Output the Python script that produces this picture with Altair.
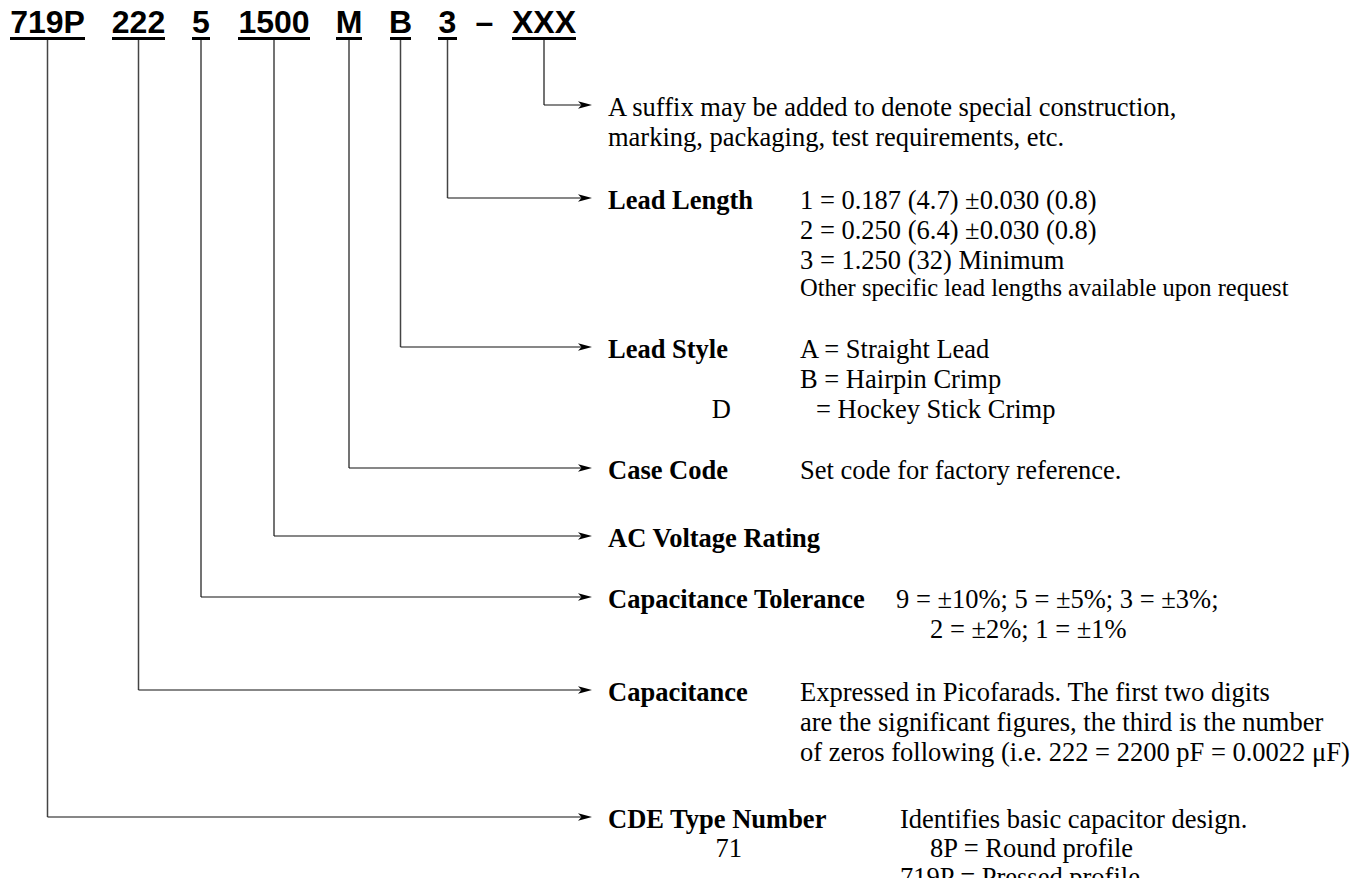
import altair as alt
import pandas as pd

# ---------------- content ----------------
codes = ["719P", "222", "5", "1500", "M", "B", "3", "\u2013", "XXX"]
code_underlined = [True, True, True, True, True, True, True, False, True]

row_code = ["XXX", "3", "B", "M", "1500", "5", "222", "719P"]
row_heading = ["", "Lead Length", "Lead Style", "Case Code", "AC Voltage Rating",
               "Capacitance Tolerance", "Capacitance", "CDE Type Number"]

desc_text = [
    "A suffix may be added to denote special construction,",
    "marking, packaging, test requirements, etc.",
    "1 = 0.187 (4.7) \u00b10.030 (0.8)",
    "2 = 0.250 (6.4) \u00b10.030 (0.8)",
    "3 = 1.250 (32) Minimum",
    "Other specific lead lengths available upon request",
    "A = Straight Lead",
    "B = Hairpin Crimp",
    "D",
    "= Hockey Stick Crimp",
    "Set code for factory reference.",
    "9 = \u00b110%; 5 = \u00b15%; 3 = \u00b13%;",
    "2 = \u00b12%; 1 = \u00b11%",
    "Expressed in Picofarads.  The first two digits",
    "are the significant figures, the third is the number",
    "of zeros following (i.e. 222 = 2200 pF = 0.0022 \u03bcF)",
    "Identifies basic capacitor design.",
    "71",
    "8P = Round profile",
    "719P = Pressed profile",
]

# ---------------- layout (page pixels) ----------------
code_cx = [47.5, 138.5, 201, 274, 349, 400.5, 447.5, 484.5, 544]
code_w = [75, 53, 18, 72, 26, 21, 19, 0, 64]
row_y = [105, 198, 347, 468, 536, 597, 690, 817]
heading_x = 608
tip_x = 592

desc_x = [608, 608, 800, 800, 800, 800, 800, 800, 731, 816, 800, 896, 930,
          800, 800, 800, 900, 742, 930, 900]
desc_y = [105, 135, 198, 228, 258, 286, 347, 377, 407, 407, 468, 597, 627,
          690, 720, 750, 817, 846, 846, 875]
desc_align = ["left"] * 8 + ["right", "left", "left", "left", "left",
                             "left", "left", "left", "left", "right", "left", "left"]
desc_size = [26.5] * 5 + [24.5] + [26.5] * 14

W, H = 1354, 870
xs = alt.Scale(domain=[8, 8 + W], nice=False, zero=False)
ys = alt.Scale(domain=[8, 8 + H], nice=False, zero=False, reverse=True)


def X(f):
    return alt.X(f, type="quantitative", scale=xs, axis=None)


def Y(f):
    return alt.Y(f, type="quantitative", scale=ys, axis=None)


# code labels
code_df = pd.DataFrame({"t": codes, "cx": code_cx, "w": code_w, "u": code_underlined})
code_df["y"] = 33
code_df["x1"] = code_df["cx"] - code_df["w"] / 2
code_df["x2"] = code_df["cx"] + code_df["w"] / 2
code_df["uy"] = 38.5

code_text = alt.Chart(code_df).mark_text(
    font="Liberation Sans", fontWeight="bold", fontSize=32,
    align="center", baseline="alphabetic", color="#000"
).encode(x=X("cx"), y=Y("y"), text="t:N")

underline = alt.Chart(code_df[code_df["u"]]).mark_rule(
    strokeWidth=3, color="#000"
).encode(x=X("x1"), x2="x2:Q", y=Y("uy"))

# leaders
cx_of = dict(zip(codes, code_cx))
lead_df = pd.DataFrame({"code": row_code, "y": row_y, "h": row_heading})
lead_df["x"] = lead_df["code"].map(cx_of)
lead_df["top"] = 40
lead_df["xe"] = tip_x - 8
lead_df["xa"] = tip_x - 7
lead_df["hx"] = heading_x
lead_df["ty"] = lead_df["y"] + 3

vlines = alt.Chart(lead_df).mark_rule(strokeWidth=1.5, color="#444").encode(
    x=X("x"), y=Y("top"), y2="y:Q")
hlines = alt.Chart(lead_df).mark_rule(strokeWidth=1.2, color="#111").encode(
    x=X("x"), x2="xe:Q", y=Y("y"))
arrow_path = "M 1 0 L -1 -0.55 L -0.5 0 L -1 0.55 Z"
arrows = alt.Chart(lead_df).mark_point(
    shape=arrow_path, filled=True, size=196, color="#000", opacity=1, strokeWidth=0
).encode(x=X("xa"), y=Y("y"))

headings = alt.Chart(lead_df[lead_df["h"] != ""]).mark_text(
    font="Liberation Serif", fontWeight="bold", fontSize=26.5,
    align="left", baseline="middle", color="#000"
).encode(x=X("hx"), y=Y("ty"), text="h:N")

desc_df = pd.DataFrame({"t": desc_text, "x": desc_x, "y": desc_y,
                        "a": desc_align, "s": desc_size})
desc_df["ty"] = desc_df["y"] + 3

layers = [vlines, hlines, arrows, underline, code_text, headings]
for al in ["left", "right"]:
    sub = desc_df[desc_df["a"] == al]
    layers.append(
        alt.Chart(sub).mark_text(
            font="Liberation Serif", align=al, baseline="middle", color="#000"
        ).encode(x=X("x"), y=Y("ty"), text="t:N",
                 size=alt.Size("s:Q", scale=None, legend=None))
    )

chart = alt.layer(*layers).properties(
    width=W, height=H, padding=0,
    autosize=alt.AutoSizeParams(type="none")
).configure_view(stroke=None)

chart.save("out.html", embed_options={"renderer": "svg", "actions": False})
